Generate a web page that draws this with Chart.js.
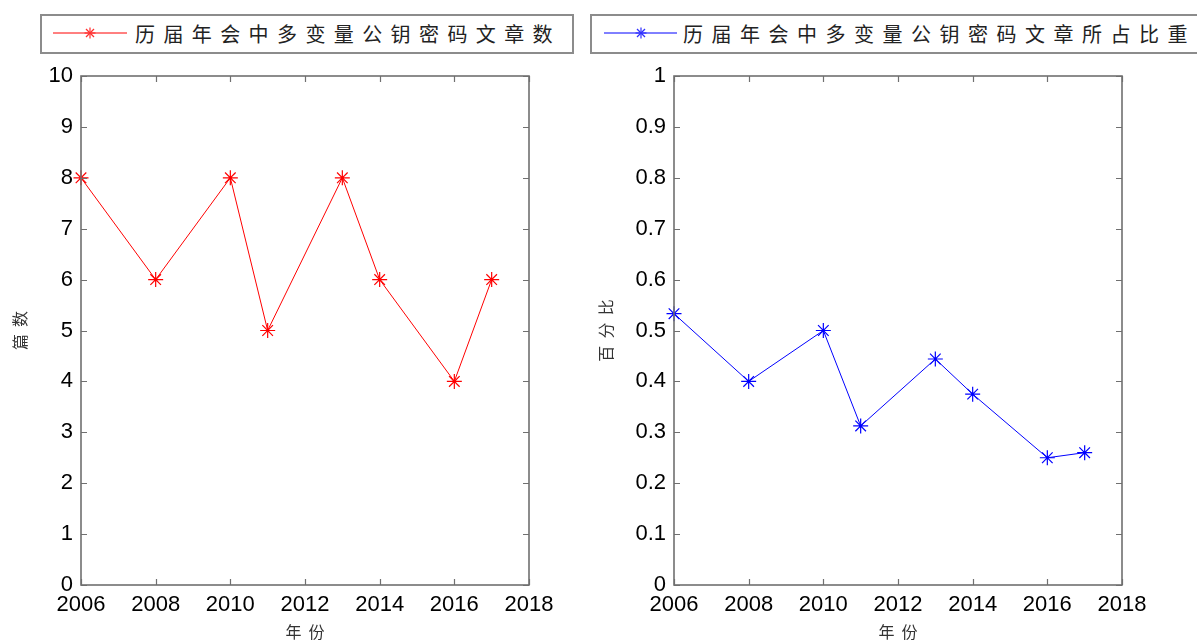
<!DOCTYPE html>
<html>
<head>
<meta charset="utf-8">
<script src="https://cdn.jsdelivr.net/npm/chart.js@4/dist/chart.umd.min.js"></script>
<style>
  html, body { margin: 0; padding: 0; background: #fff; width: 1197px; height: 643px; overflow: hidden; position: relative; }
  .pane { position: absolute; top: 0; height: 643px; }
  .legend { position: absolute; top: 14px; height: 40px; border: 2px solid #8c8c8c; box-sizing: border-box; background: #fff; }
  .legend svg { position: absolute; top: 0; }
  .legend span { position: absolute; top: 5px; font-family: "Noto Sans CJK SC", sans-serif; font-size: 20px; line-height: 26px; color: #222; white-space: nowrap; }
</style>
</head>
<body>
<div class="pane" style="left:0; width:580px;"><canvas id="countChart" width="580" height="643"></canvas></div>
<div class="pane" style="left:580px; width:617px;"><canvas id="ratioChart" width="617" height="643"></canvas></div>

<div class="legend" style="left:40px; width:534px;">
  <svg width="100" height="40" style="left:11px;">
    <line x1="0" y1="17" x2="74" y2="17" stroke="#ff0000" stroke-width="1"/>
    <g stroke="#ff3030" stroke-width="1.2">
      <line x1="37" y1="11.5" x2="37" y2="22.5"/>
      <line x1="31.5" y1="17" x2="42.5" y2="17"/>
      <line x1="33" y1="13" x2="41" y2="21"/>
      <line x1="33" y1="21" x2="41" y2="13"/>
    </g>
  </svg>
  <span id="legendLeft" style="left:93px; letter-spacing:8.4px;"></span>
</div>
<div class="legend" style="left:590px; width:640px;">
  <svg width="100" height="40" style="left:12px;">
    <line x1="0" y1="17" x2="73" y2="17" stroke="#0000ff" stroke-width="1"/>
    <g stroke="#3030ff" stroke-width="1.2">
      <line x1="37" y1="11.5" x2="37" y2="22.5"/>
      <line x1="31.5" y1="17" x2="42.5" y2="17"/>
      <line x1="33" y1="13" x2="41" y2="21"/>
      <line x1="33" y1="21" x2="41" y2="13"/>
    </g>
  </svg>
  <span id="legendRight" style="left:91px; letter-spacing:8.5px;"></span>
</div>

<script>
// Conference years and the multivariate public-key papers per year
const years = [2006, 2008, 2010, 2011, 2013, 2014, 2016, 2017];
const paperCounts = [8, 6, 8, 5, 8, 6, 4, 6];
const paperShares = [0.533, 0.40, 0.50, 0.3125, 0.444, 0.375, 0.25, 0.26];

// Axis ranges and labels
const yearRange = [2006, 2018];
const yearStep = 2;
const countRange = [0, 10];
const countStep = 1;
const shareRange = [0, 1];
const shareStep = 0.1;

const countLabel = '历届年会中多变量公钥密码文章数';
const shareLabel = '历届年会中多变量公钥密码文章所占比重';
const yearTitle = '年  份';
const countTitle = '篇  数';
const shareTitle = '百  分  比';

document.getElementById('legendLeft').textContent = countLabel;
document.getElementById('legendRight').textContent = shareLabel;

// Boxed frame with inward tick marks on all four sides
const frameTicks = {
  id: 'frameTicks',
  afterDraw(chart) {
    const { ctx, chartArea: a, scales } = chart;
    const len = 6;
    ctx.save();
    ctx.strokeStyle = '#707070';
    ctx.lineWidth = 1.2;
    scales.x.ticks.forEach(t => {
      const px = Math.round(scales.x.getPixelForValue(t.value)) + 0.5;
      ctx.beginPath();
      ctx.moveTo(px, a.bottom); ctx.lineTo(px, a.bottom - len);
      ctx.moveTo(px, a.top); ctx.lineTo(px, a.top + len);
      ctx.stroke();
    });
    scales.y.ticks.forEach(t => {
      const py = Math.round(scales.y.getPixelForValue(t.value)) + 0.5;
      ctx.beginPath();
      ctx.moveTo(a.left, py); ctx.lineTo(a.left + len, py);
      ctx.moveTo(a.right, py); ctx.lineTo(a.right - len, py);
      ctx.stroke();
    });
    ctx.lineWidth = 1.6;
    ctx.strokeRect(a.left, a.top, a.right - a.left, a.bottom - a.top);
    ctx.restore();
  }
};

const tickFont = { family: '"Liberation Sans", Arial, sans-serif', size: 22 };
const titleFont = { family: '"Noto Sans CJK SC", sans-serif', size: 16 };

function makeChart(id, values, color, yRange, yStep, yTitle, yAxisWidth, rightPad, titlePad) {
  return new Chart(document.getElementById(id), {
    type: 'line',
    data: {
      datasets: [{
        data: years.map((yr, i) => ({ x: yr, y: values[i] })),
        borderColor: color,
        backgroundColor: color,
        borderWidth: 1,
        pointStyle: 'star',
        pointRadius: 7.5,
        pointBorderWidth: 1.2,
        pointBorderColor: color,
        tension: 0,
        clip: false
      }]
    },
    options: {
      responsive: false,
      animation: false,
      events: [],
      layout: { padding: { left: 0, top: 76, right: rightPad, bottom: 0 } },
      plugins: { legend: { display: false }, tooltip: { enabled: false } },
      scales: {
        x: {
          type: 'linear',
          min: yearRange[0], max: yearRange[1],
          grid: { display: false, drawTicks: false },
          border: { display: false },
          ticks: {
            stepSize: yearStep, color: '#000', font: tickFont, padding: 7,
            maxRotation: 0, autoSkip: false,
            callback: v => String(v)
          },
          title: { display: true, text: yearTitle, color: '#333', font: titleFont, padding: { top: 0, bottom: 1 } },
          afterFit: s => { s.height = 58; }
        },
        y: {
          type: 'linear',
          min: yRange[0], max: yRange[1],
          grid: { display: false, drawTicks: false },
          border: { display: false },
          ticks: {
            stepSize: yStep, color: '#000', font: tickFont, padding: 8,
            callback: v => String(Math.round(v * 10) / 10)
          },
          title: { display: true, text: yTitle, color: '#333', font: titleFont, padding: { top: titlePad, bottom: 0 } },
          afterFit: s => { s.width = yAxisWidth; }
        }
      }
    },
    plugins: [frameTicks]
  });
}

makeChart('countChart', paperCounts, '#ff0000', countRange, countStep, countTitle, 81, 51, 10);
makeChart('ratioChart', paperShares, '#0000ff', shareRange, shareStep, shareTitle, 94, 75, 16);
</script>
</body>
</html>
